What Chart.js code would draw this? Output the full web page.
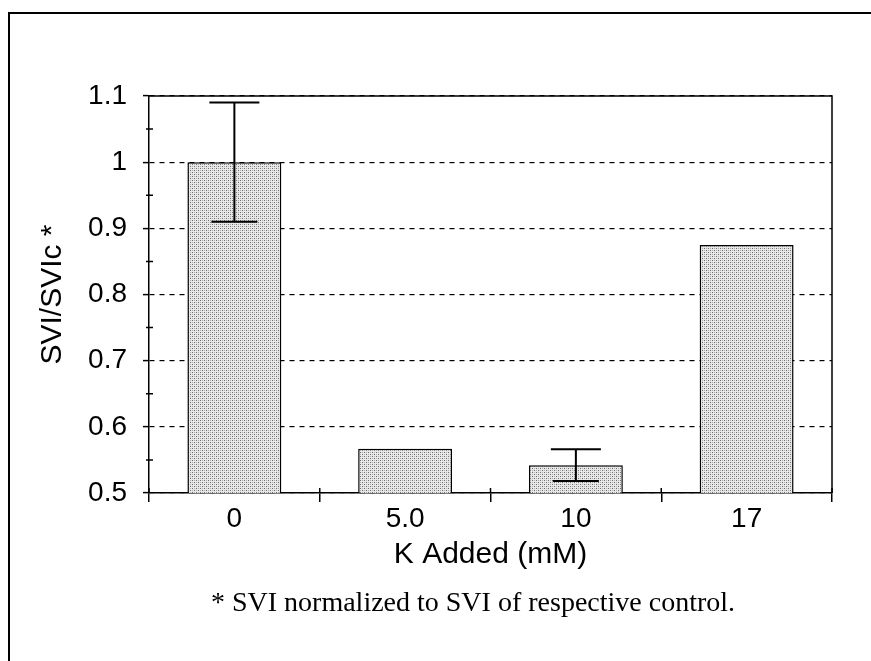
<!DOCTYPE html>
<html>
<head>
<meta charset="utf-8">
<script src="https://cdn.jsdelivr.net/npm/chart.js@4/dist/chart.umd.min.js"></script>
<style>
  html, body { margin: 0; padding: 0; background: #fff; }
  #wrap { width: 871px; height: 661px; position: relative; }
</style>
</head>
<body>
<div id="wrap"><canvas id="svi-chart" width="871" height="661"></canvas></div>
<script>
// Data
const categories = ['0', '5.0', '10', '17'];
const sviValues = [1.0, 0.567, 0.542, 0.875];
const sviErrors = [0.09, 0, 0.024, 0];
const yTicks = [0.5, 0.6, 0.7, 0.8, 0.9, 1.0, 1.1];
const yMinorTicks = [0.55, 0.65, 0.75, 0.85, 0.95, 1.05];
const footnote = '* SVI normalized to SVI of respective control.';

// stippled grey fill like the scanned bars
function makeStipple() {
    const c = document.createElement('canvas');
    c.width = 4; c.height = 4;
    const g = c.getContext('2d');
    g.fillStyle = '#e8e8e8';
    g.fillRect(0, 0, 4, 4);
    g.fillStyle = '#6e6e6e';
    g.fillRect(0, 0, 1, 1);
    g.fillRect(2, 2, 1, 1);
    g.fillStyle = '#b0b0b0';
    g.fillRect(2, 0, 1, 1);
    g.fillRect(0, 2, 1, 1);
    return g.createPattern(c, 'repeat');
}

const extras = {
    id: 'extras',
    beforeDraw(chart) {
        const ctx = chart.ctx;
        ctx.save();
        ctx.fillStyle = '#fff';
        ctx.fillRect(0, 0, chart.width, chart.height);
        // outer frame (left and top only)
        ctx.strokeStyle = '#000';
        ctx.lineWidth = 2;
        ctx.beginPath();
        ctx.moveTo(9, chart.height);
        ctx.lineTo(9, 13);
        ctx.lineTo(chart.width, 13);
        ctx.stroke();
        ctx.restore();
    },
    afterDatasetsDraw(chart) {
        const ctx = chart.ctx;
        const y = chart.scales.y;
        const meta = chart.getDatasetMeta(0);
        ctx.save();
        ctx.strokeStyle = '#000';
        ctx.lineWidth = 2;
        meta.data.forEach((bar, i) => {
            const e = sviErrors[i];
            if (!e) return;
            const top = y.getPixelForValue(sviValues[i] + e);
            const bot = y.getPixelForValue(sviValues[i] - e);
            ctx.beginPath();
            ctx.moveTo(bar.x, top); ctx.lineTo(bar.x, bot);
            ctx.moveTo(bar.x - 25, top); ctx.lineTo(bar.x + 25, top);
            ctx.moveTo(bar.x - 23, bot); ctx.lineTo(bar.x + 23, bot);
            ctx.stroke();
        });
        ctx.restore();
    },
    afterDraw(chart) {
        const ctx = chart.ctx;
        const a = chart.chartArea;
        const y = chart.scales.y;
        ctx.save();
        ctx.strokeStyle = '#000';
        ctx.lineWidth = 1.5;
        // top and right edges of the plot box
        ctx.beginPath();
        ctx.moveTo(a.left, a.top); ctx.lineTo(a.right, a.top); ctx.lineTo(a.right, a.bottom);
        ctx.stroke();
        // minor y ticks crossing the axis
        ctx.beginPath();
        yMinorTicks.forEach(v => {
            const py = y.getPixelForValue(v);
            ctx.moveTo(a.left - 3, py); ctx.lineTo(a.left + 4, py);
        });
        // upper part of the category ticks
        const n = categories.length;
        for (let i = 0; i <= n; i++) {
            const px = a.left + i * (a.right - a.left) / n;
            ctx.moveTo(px, a.bottom - 5); ctx.lineTo(px, a.bottom);
        }
        ctx.stroke();
        // footnote
        ctx.fillStyle = '#000';
        ctx.font = '28px "Liberation Serif", "Times New Roman", serif';
        ctx.textAlign = 'center';
        ctx.textBaseline = 'middle';
        ctx.fillText(footnote, 473, 604);
        ctx.restore();
    }
};

document.addEventListener('DOMContentLoaded', () => {
    const canvas = document.getElementById('svi-chart');
    new Chart(canvas, {
        type: 'bar',
        data: {
            labels: categories,
            datasets: [{
                data: sviValues,
                backgroundColor: makeStipple(),
                borderColor: '#000',
                borderWidth: 1.5,
                borderSkipped: 'bottom',
                categoryPercentage: 1.0,
                barPercentage: 0.55
            }]
        },
        options: {
            responsive: false,
            animation: false,
            layout: { padding: { top: 96, right: 39, left: 0, bottom: 0 } },
            plugins: { legend: { display: false }, tooltip: { enabled: false } },
            scales: {
                x: {
                    afterFit: s => { s.height = 168; },
                    grid: { display: true, drawOnChartArea: false, color: '#000', lineWidth: 1.5, tickLength: 9, offset: true },
                    border: { display: true, color: '#000', width: 1.5 },
                    ticks: { color: '#000', padding: 0, font: { family: 'Liberation Sans, Arial, sans-serif', size: 28 } },
                    title: {
                        display: true, text: 'K Added (mM)', color: '#000',
                        font: { family: 'Liberation Sans, Arial, sans-serif', size: 30 },
                        padding: { top: 0, bottom: 88 }
                    }
                },
                y: {
                    min: 0.5, max: 1.1,
                    afterFit: s => { s.width = 149; },
                    afterBuildTicks: s => { s.ticks = yTicks.map(v => ({ value: v })); },
                    grid: {
                        color: '#000', lineWidth: 1.2,
                        tickLength: 6, tickBorderDash: [], tickWidth: 1.5, tickColor: '#000'
                    },
                    border: { display: true, color: '#000', width: 1.5, dash: [5, 5] },
                    ticks: {
                        color: '#000', padding: 16,
                        font: { family: 'Liberation Sans, Arial, sans-serif', size: 28 },
                        callback: v => String(Math.round(v * 10) / 10)
                    },
                    title: {
                        display: true, text: 'SVI/SVIc *', color: '#000',
                        font: { family: 'Liberation Sans, Arial, sans-serif', size: 30 },
                        padding: { top: 35, bottom: 0 }
                    }
                }
            }
        },
        plugins: [extras]
    });
});
</script>
</body>
</html>
